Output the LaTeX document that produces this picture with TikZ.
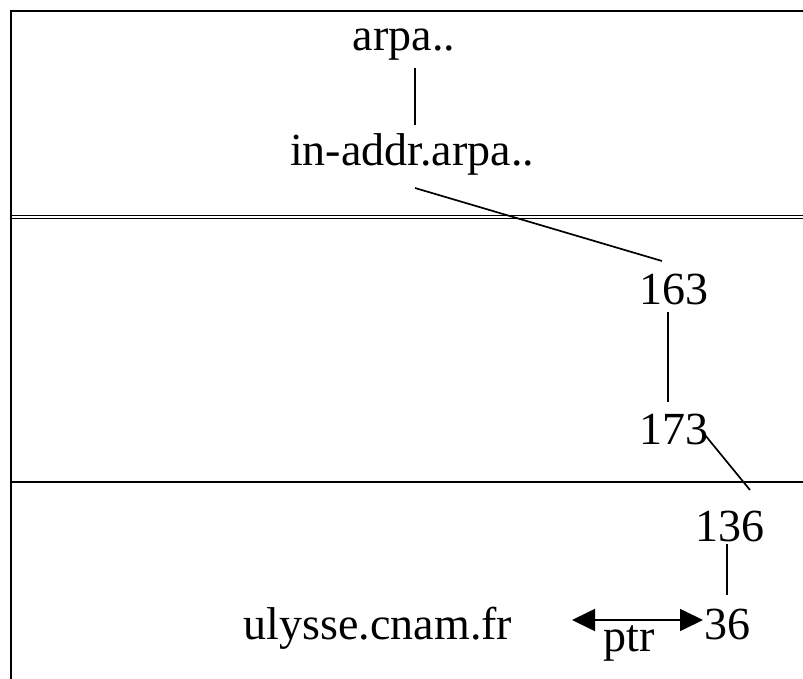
\documentclass[tikz,border=0pt]{standalone}
\usepackage{fontspec}
\setmainfont{Liberation Serif}
\usetikzlibrary{calc,arrows.meta}
\begin{document}
\begin{tikzpicture}[x=1pt,y=-1pt,
  lbl/.style={inner sep=0pt,anchor=base,font=\fontsize{46}{50}\selectfont},
  frame/.style={line width=1.8pt},
  link/.style={line width=1.7pt},
  ptrarrow/.style={line width=1.7pt,{Triangle[length=23pt,width=22pt]}-{Triangle[length=23pt,width=22pt]}}]
  \useasboundingbox (0,0) rectangle (803,679);
  % zone borders
  \draw[frame] (11,679) -- (11,11) -- (803,11);
  \draw[frame] (11,215.5) -- (803,215.5);
  \draw[frame] (11,218.5) -- (803,218.5);
  \draw[frame] (11,482) -- (803,482);
  % tree labels
  \node[lbl] (arpa)   at (404,51)    {arpa..};
  \node[lbl] (inaddr) at (412,166)   {in-addr.arpa..};
  \node[lbl] (n163)   at (673.5,304) {163};
  \node[lbl] (n173)   at (673.5,444) {173};
  \node[lbl] (n136)   at (730,541)   {136};
  \node[lbl] (n36)    at (727.5,639) {36};
  \node[lbl] (ulysse) at (378,639)   {ulysse.cnam.fr};
  \node[lbl] (ptr)    at (629,651)   {ptr};
  % tree edges
  \draw[link] ($(arpa.base)+(11,17)$) -- ($(inaddr.base)+(3,-41)$);
  \draw[link] ($(inaddr.base)+(3,22)$) -- ($(n163.base)+(-11.5,-43)$);
  \draw[link] ($(n163.base)+(-5.5,8)$) -- ($(n173.base)+(-5.5,-42)$);
  \draw[link] ($(n173.base)+(31.5,-9)$) -- ($(n136.base)+(20,-51)$);
  \draw[link] ($(n136.base)+(-3,3)$) -- ($(n36.base)+(-0.5,-44)$);
  % pointer record
  \draw[ptrarrow] ($(n36.base)+(-155.5,-19)$) -- ($(n36.base)+(-24.5,-19)$);
\end{tikzpicture}
\end{document}
